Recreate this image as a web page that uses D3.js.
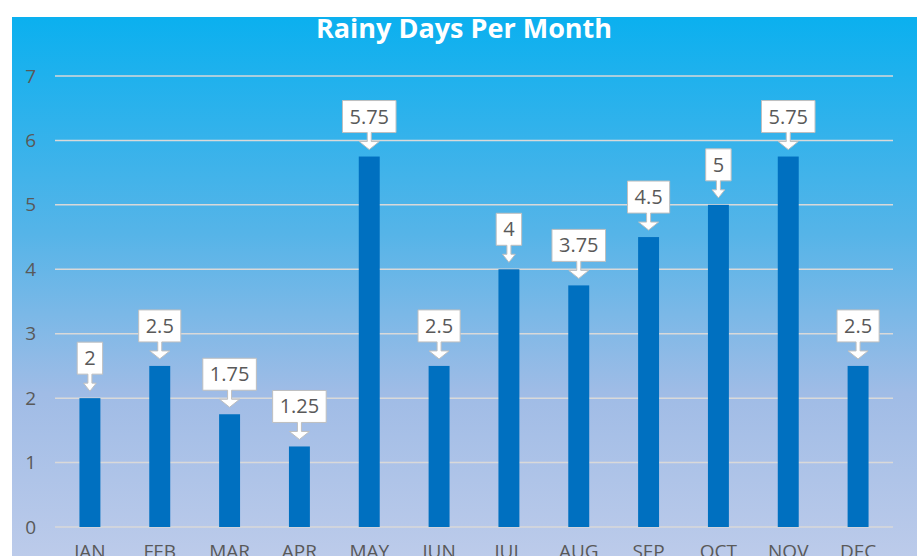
<!DOCTYPE html>
<html>
<head>
<meta charset="utf-8">
<script src="https://cdn.jsdelivr.net/npm/d3@7"></script>
<style>
  body { margin: 0; background: #fff; }
  svg { display: block; }
</style>
</head>
<body>
<div id="chart"></div>
<script>
var months = ["JAN", "FEB", "MAR", "APR", "MAY", "JUN", "JUL", "AUG", "SEP", "OCT", "NOV", "DEC"];
var rainyDays = [2, 2.5, 1.75, 1.25, 5.75, 2.5, 4, 3.75, 4.5, 5, 5.75, 2.5];
var yTicks = [0, 1, 2, 3, 4, 5, 6, 7];
var title = "Rainy Days Per Month";

function init() {
    var w = 917, h = 556;
    var margin = { top: 76, right: 24, bottom: 29, left: 55 };

    var svg = d3.select("#chart").append("svg")
        .attr("width", w)
        .attr("height", h);

    // background gradient
    var grad = svg.append("defs").append("linearGradient")
        .attr("id", "bg")
        .attr("x1", 0).attr("y1", 0).attr("x2", 0).attr("y2", 1);
    [[0, "#0bb0ef"], [0.4, "#55b4e8"], [0.7, "#a0bce6"], [1, "#bccbea"]].forEach(s => {
        grad.append("stop").attr("offset", s[0]).attr("stop-color", s[1]);
    });
    svg.append("rect")
        .attr("x", 12).attr("y", 17)
        .attr("width", w - 12).attr("height", h - 17)
        .attr("fill", "url(#bg)");

    var xScale = d3.scaleBand()
        .domain(months)
        .range([margin.left, w - margin.right])
        .paddingInner(0.7)
        .paddingOuter(0.35);
    var yScale = d3.scaleLinear()
        .domain([0, 7])
        .range([h - margin.bottom, margin.top]);

    // gridlines
    svg.append("g").selectAll("line")
        .data(yTicks)
        .join("line")
        .attr("x1", margin.left).attr("x2", w - margin.right)
        .attr("y1", d => yScale(d)).attr("y2", d => yScale(d))
        .attr("stroke", "#d9d9d9")
        .attr("stroke-width", 1.5);

    // y axis labels
    var yAxis = svg.append("g")
        .attr("transform", `translate(${margin.left - 19},0)`)
        .call(d3.axisLeft(yScale).tickValues(yTicks).tickFormat(d3.format("d")).tickSize(0).tickPadding(0));
    yAxis.select(".domain").remove();
    yAxis.selectAll("text")
        .attr("fill", "#595959")
        .style("font", "19px 'Open Sans', sans-serif");

    // x axis labels
    var xAxis = svg.append("g")
        .attr("transform", `translate(0,${h - margin.bottom})`)
        .call(d3.axisBottom(xScale).tickSize(0).tickPadding(18));
    xAxis.select(".domain").remove();
    xAxis.selectAll("text")
        .attr("fill", "#595959")
        .style("font", "19px 'Open Sans', sans-serif");

    // bars
    svg.append("g").selectAll("rect")
        .data(rainyDays)
        .join("rect")
        .attr("x", (d, i) => xScale(months[i]))
        .attr("y", d => yScale(d))
        .attr("width", xScale.bandwidth())
        .attr("height", d => yScale(0) - yScale(d))
        .attr("fill", "#0070c0");

    // callout labels
    var labels = svg.append("g").selectAll("g")
        .data(rainyDays)
        .join("g")
        .attr("transform", (d, i) => `translate(${xScale(months[i]) + xScale.bandwidth() / 2},${yScale(d)})`);

    labels.each(function(d) {
        var g = d3.select(this);
        var txt = g.append("text")
            .attr("text-anchor", "middle")
            .attr("fill", "#595959")
            .style("font", "20px 'Open Sans', sans-serif")
            .text(d);
        var tw = txt.node().getComputedTextLength();
        var bw = tw + 14, bh = 32;
        var tip = -7, bottom = tip - 17, top = bottom - bh;
        var hw = Math.min(10, bw / 4), sw = 2, hh = 8;
        var path = [
            [-bw / 2, top], [bw / 2, top], [bw / 2, bottom],
            [sw, bottom], [sw, tip - hh], [hw, tip - hh], [0, tip],
            [-hw, tip - hh], [-sw, tip - hh], [-sw, bottom],
            [-bw / 2, bottom]
        ];
        g.insert("path", "text")
            .attr("d", d3.line()(path) + "Z")
            .attr("fill", "#fff")
            .attr("stroke", "#bfbfbf")
            .attr("stroke-width", 1);
        txt.attr("y", top + bh / 2 + 7);
    });

    // title
    svg.append("text")
        .attr("x", 464).attr("y", 38)
        .attr("text-anchor", "middle")
        .attr("fill", "#fff")
        .style("font", "bold 27px 'Open Sans', sans-serif")
        .text(title);
}

window.onload = init;
</script>
</body>
</html>
